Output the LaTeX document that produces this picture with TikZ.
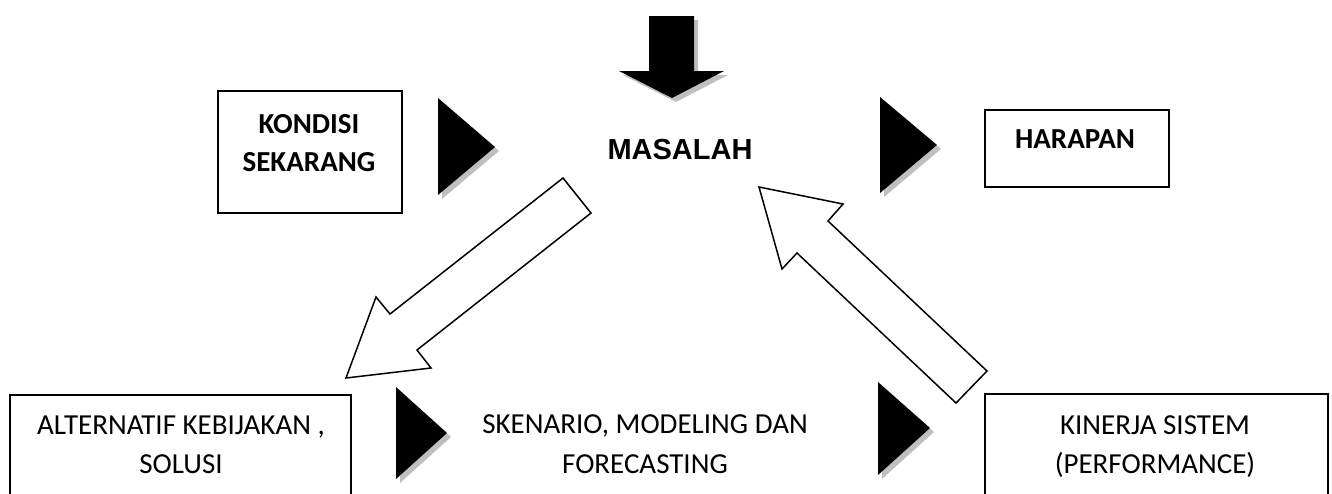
\documentclass[tikz,border=0pt]{standalone}
\usepackage{fontspec}
\setmainfont{Carlito}
\newfontfamily\headfont{Liberation Sans}
\begin{document}
\begin{tikzpicture}[x=1pt,y=-1pt,
  box/.style={draw=black,line width=1.6pt,inner sep=0pt,anchor=north west},
  lbl/.style={anchor=base,inner sep=0pt,font=\fontsize{29}{39}\selectfont},
  blbl/.style={lbl,font=\fontsize{29}{39}\selectfont\bfseries},
  solidtip/.style={fill=black},
  tipshadow/.style={fill=black!25},
  hollow/.style={draw=black,line width=1.5pt,fill=white,line join=miter}]
\useasboundingbox (0,0) rectangle (1332,493);
\clip (0,0) rectangle (1332,493);

% boxes
\node[box,minimum width=184pt,minimum height=122pt] (kondisi) at (217,90) {};
\node[box,minimum width=184pt,minimum height=77pt] (harapan) at (984,109) {};
\node[box,minimum width=341pt,minimum height=130pt] (alternatif) at (9,394) {};
\node[box,minimum width=343pt,minimum height=130pt] (kinerja) at (984,393) {};

% texts
\node[blbl] (t1) at (309,133) {KONDISI};
\node[blbl] (t2) at (309,171) {SEKARANG};
\node[blbl] (t3) at (1075,148) {HARAPAN};
\node[lbl,font=\fontsize{29}{39}\selectfont\headfont\bfseries] (t4) at (680,159) {MASALAH};
\node[lbl] (t5) at (181,434) {ALTERNATIF KEBIJAKAN ,};
\node[lbl] (t6) at (181,473) {SOLUSI};
\node[lbl] (t7) at (645,433) {SKENARIO, MODELING DAN};
\node[lbl] (t8) at (645,473) {FORECASTING};
\node[lbl] (t9) at (1155,434) {KINERJA SISTEM};
\node[lbl] (t10) at (1155,473) {(PERFORMANCE)};

% solid down arrow into the problem
\begin{scope}[shift={(4,4)}]
\fill[tipshadow] (649,16) -- (694,16) -- (694,71) -- (724,71) -- (672,98) -- (619,71) -- (649,71) -- cycle;
\end{scope}
\fill[solidtip] (649,16) -- (694,16) -- (694,71) -- (724,71) -- (672,98) -- (619,71) -- (649,71) -- cycle;

% solid triangles
\foreach \l/\t/\b/\px/\py in {438/98/195/495/147, 880/97/193/937/145, 396/387/479/447/433, 878/382/475/930/428}{
  \fill[tipshadow] (\l+4,\t+4) -- (\px+4,\py+4) -- (\l+4,\b+4) -- cycle;
  \fill[solidtip] (\l,\t) -- (\px,\py) -- (\l,\b) -- cycle;
}

% hollow block arrows
\draw[hollow] (563,178) -- (591,213) -- (417,350) -- (431,368) -- (346,378) -- (376,297) -- (390,314) -- cycle;
\draw[hollow] (759,187) -- (843,204) -- (828,221) -- (987,371) -- (956,403) -- (797,253) -- (782,269) -- cycle;
\end{tikzpicture}
\end{document}
